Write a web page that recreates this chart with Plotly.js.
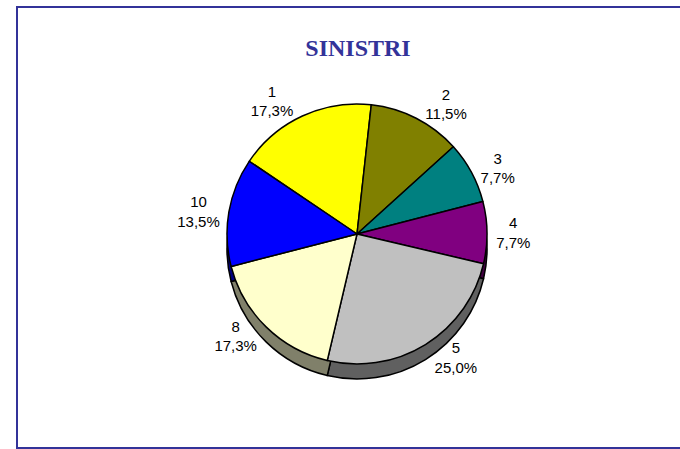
<!DOCTYPE html>
<html>
<head>
<meta charset="utf-8">
<script src="https://cdn.plot.ly/plotly-3.0.1.min.js"></script>
<style>html,body{margin:0;padding:0;background:#fff;}#chart{width:680px;height:449px;}</style>
</head>
<body>
<div id="chart"></div>
<script>
// Data (counts; percentages shown: 17,3 / 11,5 / 7,7 / 7,7 / 25,0 / 17,3 / 13,5)
var categories = ["1", "2", "3", "4", "5", "8", "10"];
var values = [9, 6, 4, 4, 13, 9, 7];
var topColors = ["#FFFF00", "#808000", "#008080", "#800080", "#C0C0C0", "#FFFFCC", "#0000FF"];
var sideColors = ["#808000", "#404000", "#004040", "#400040", "#606060", "#80806A", "#000080"];
var titleText = "SINISTRI";

var cx = 357 / 680, r = 130;
var cyTop = 1 - 234 / 449, depth = 15 / 449;
function dom(cy) {
  return {x: [cx - r / 680, cx + r / 680], y: [cy - r / 449, cy + r / 449]};
}

var sidePie = {
  type: "pie", labels: categories, values: values, sort: false,
  direction: "clockwise", rotation: -56,
  marker: {colors: sideColors, line: {color: "#000", width: 1.5}},
  textinfo: "none", hoverinfo: "skip", showlegend: false,
  domain: dom(cyTop - depth)
};
var topPie = {
  type: "pie", labels: categories, values: values, sort: false,
  direction: "clockwise", rotation: -56,
  marker: {colors: topColors, line: {color: "#000", width: 1.5}},
  textposition: "outside",
  texttemplate: "%{label}<br>%{percent:.1%}",
  textfont: {family: "Liberation Sans, Arial, sans-serif", size: 15, color: "#000"},
  outsidetextfont: {family: "Liberation Sans, Arial, sans-serif", size: 15, color: "#000"},
  showlegend: false, automargin: false,
  domain: dom(cyTop)
};

var layout = {
  width: 680, height: 449,
  margin: {l: 0, r: 0, t: 0, b: 0},
  paper_bgcolor: "#fff",
  separators: ",.",
  showlegend: false,
  title: {
    text: "<b>" + titleText + "</b>",
    font: {family: "Liberation Serif, serif", size: 24, color: "#333399"},
    x: 358 / 680, xanchor: "center", y: 1 - 48 / 449, yanchor: "middle"
  },
  shapes: [{
    type: "rect", xref: "paper", yref: "paper",
    x0: 17 / 680, x1: 1.02, y0: 1 - 448 / 449, y1: 1 - 7 / 449,
    line: {color: "#333399", width: 2}, fillcolor: "rgba(0,0,0,0)"
  }]
};

Plotly.newPlot("chart", [sidePie, topPie], layout, {displayModeBar: false, staticPlot: true});
</script>
</body>
</html>
